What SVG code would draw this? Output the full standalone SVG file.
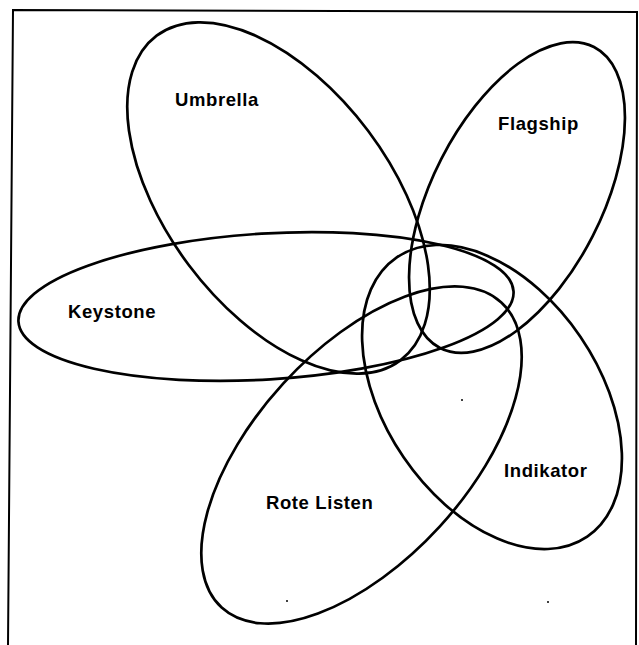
<svg xmlns="http://www.w3.org/2000/svg" width="639" height="645" viewBox="0 0 639 645">
<style>
.set{fill:none;stroke:#000;stroke-width:2.7}
.lbl{font-family:"Liberation Sans",Arial,sans-serif;font-weight:bold;font-size:18.5px;letter-spacing:0.6px;fill:#000}
.frame{fill:none;stroke:#000;stroke-width:2}
</style>
<rect width="639" height="645" fill="#fff"/>
<path class="frame" d="M8,645 L13,10 L637,12 L636,645"/>
<g id="umbrella">
<ellipse class="set" cx="278.5" cy="198" rx="203" ry="112" transform="rotate(53.1 278.5 198)"/>
<text class="lbl" x="175" y="106">Umbrella</text>
</g>
<g id="flagship">
<ellipse class="set" cx="517" cy="197.5" rx="169" ry="85" transform="rotate(-62.9 517 197.5)"/>
<text class="lbl" x="498" y="130">Flagship</text>
</g>
<g id="keystone">
<ellipse class="set" cx="266" cy="306.5" rx="248" ry="73" transform="rotate(-3.5 266 306.5)"/>
<text class="lbl" x="68" y="318">Keystone</text>
</g>
<g id="rote-listen">
<ellipse class="set" cx="361.5" cy="455" rx="207" ry="106" transform="rotate(-47.5 361.5 455)"/>
<text class="lbl" x="266" y="509">Rote Listen</text>
</g>
<g id="indikator">
<ellipse class="set" cx="492" cy="397" rx="169" ry="107" transform="rotate(55.7 492 397)"/>
<text class="lbl" x="504" y="477">Indikator</text>
</g>
<g id="connectors"></g>
<g id="specks" fill="#000">
<circle cx="462" cy="400" r="1"/>
<circle cx="548" cy="602" r="1"/>
<circle cx="287" cy="601" r="1"/>
</g>
</svg>
